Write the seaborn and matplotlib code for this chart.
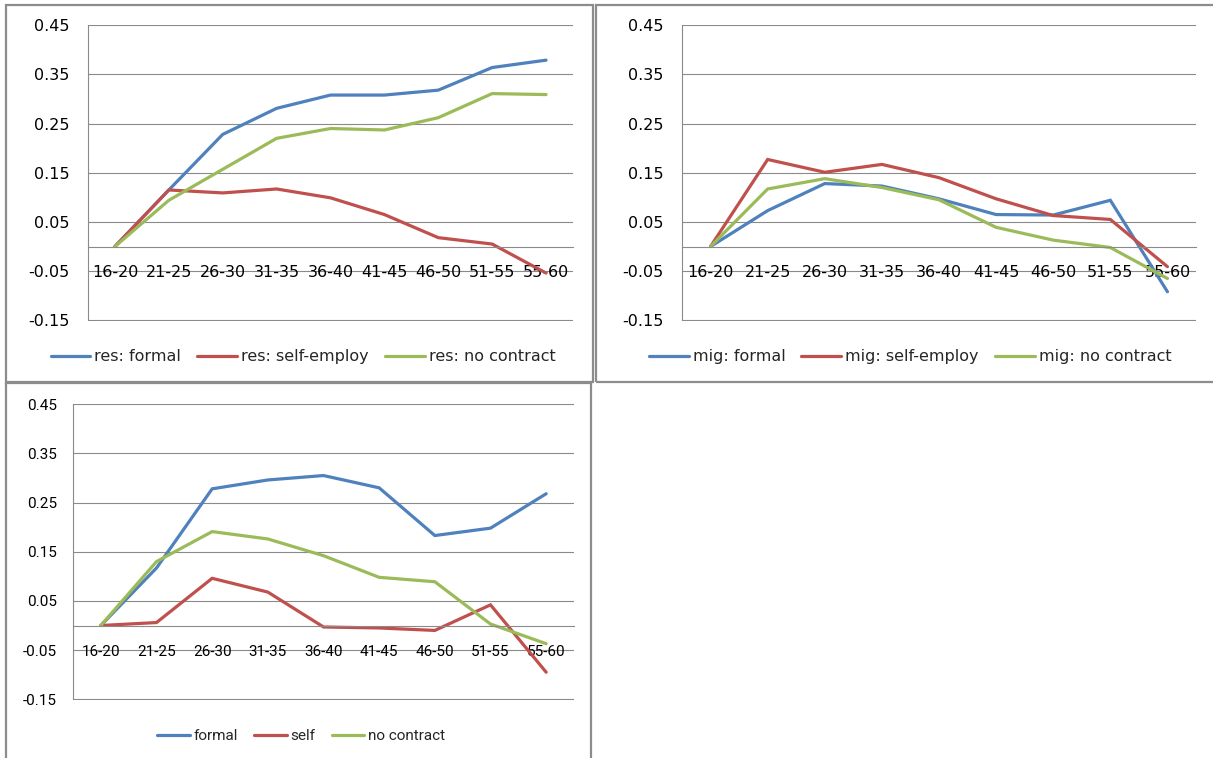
import matplotlib
matplotlib.use("Agg")
import matplotlib.pyplot as plt
from matplotlib.patches import Rectangle
import seaborn as sns
import pandas as pd
import numpy as np

# ---------------- data ----------------
age_groups = ["16-20", "21-25", "26-30", "31-35", "36-40", "41-45", "46-50", "51-55", "55-60"]

res_formal = [0.0, 0.115, 0.228, 0.281, 0.308, 0.308, 0.318, 0.364, 0.379]
res_self = [0.0, 0.115, 0.109, 0.117, 0.099, 0.065, 0.018, 0.005, -0.054]
res_nocontract = [0.0, 0.094, 0.157, 0.220, 0.240, 0.237, 0.262, 0.311, 0.309]

mig_formal = [0.0, 0.073, 0.128, 0.123, 0.097, 0.065, 0.064, 0.094, -0.092]
mig_self = [0.0, 0.177, 0.151, 0.167, 0.140, 0.097, 0.063, 0.055, -0.041]
mig_nocontract = [0.0, 0.117, 0.138, 0.120, 0.095, 0.039, 0.013, -0.002, -0.065]

all_formal = [0.0, 0.117, 0.278, 0.296, 0.305, 0.280, 0.183, 0.198, 0.268]
all_self = [0.0, 0.006, 0.096, 0.068, -0.003, -0.005, -0.010, 0.042, -0.095]
all_nocontract = [0.0, 0.130, 0.191, 0.176, 0.142, 0.098, 0.089, 0.003, -0.037]

res_labels = ["res: formal", "res: self-employ", "res: no contract"]
mig_labels = ["mig: formal", "mig: self-employ", "mig: no contract"]
all_labels = ["formal", "self", "no contract"]

ytick_values = [-0.15, -0.05, 0.05, 0.15, 0.25, 0.35, 0.45]
ytick_labels = ["-0.15", "-0.05", "0.05", "0.15", "0.25", "0.35", "0.45"]

colors = ["#4F81BD", "#C0504D", "#9BBB59"]

# ---------------- style ----------------
sns.set_style("white")
plt.rcParams["axes.unicode_minus"] = False
plt.rcParams["font.family"] = ["DejaVu Sans"]

W, H = 1213, 758
fig = plt.figure(figsize=(W / 100, H / 100), dpi=100)
GRID = "#8a8a8a"


def px_rect(l, t, r, b):
    return [l / W, 1 - b / H, (r - l) / W, (b - t) / H]


def make_panel(rect, series, labels, font, fsize, ypad, xpad, ytl, leg_xy, handlelen, colspace):
    ax = fig.add_axes(rect)
    x = np.arange(len(age_groups))
    frames = []
    for vals, lab in zip(series, labels):
        frames.append(pd.DataFrame({"x": x, "value": vals, "series": lab}))
    df = pd.concat(frames, ignore_index=True)
    sns.lineplot(data=df, x="x", y="value", hue="series", hue_order=labels,
                 palette=colors, linewidth=2.3, ax=ax, legend=True, sort=False)
    ax.set_xlim(-0.5, len(age_groups) - 0.5)
    ax.set_ylim(-0.1515, 0.4505)
    ax.set_xlabel("")
    ax.set_ylabel("")
    ax.set_yticks(ytick_values)
    ax.set_yticklabels(ytick_labels, fontfamily=font, fontsize=fsize)
    ax.yaxis.grid(True, color=GRID, linewidth=0.8)
    ax.xaxis.grid(False)
    ax.set_axisbelow(True)
    ax.xaxis.set_zorder(1.5)  # x tick labels above the y gridlines, below data lines
    for s in ["top", "right"]:
        ax.spines[s].set_visible(False)
    ax.spines["left"].set_color(GRID)
    ax.spines["left"].set_linewidth(0.8)
    ax.spines["left"].set_bounds(-0.15, 0.45)
    ax.spines["bottom"].set_position(("data", 0))
    ax.spines["bottom"].set_color(GRID)
    ax.spines["bottom"].set_linewidth(0.8)
    ax.tick_params(axis="y", which="major", direction="out", length=ytl, width=0.8,
                   color=GRID, pad=ypad, labelcolor="black")
    ax.set_xticks(x)
    ax.set_xticklabels(age_groups, fontfamily=font, fontsize=fsize)
    ax.set_xticks(np.arange(-0.5, len(age_groups)), minor=True)
    ax.tick_params(axis="x", which="major", length=0, pad=xpad, labelcolor="black")
    ax.tick_params(axis="x", which="minor", direction="out", length=4.5, width=0.8, color=GRID)
    leg = ax.legend(loc="center", bbox_to_anchor=(leg_xy[0] / W, 1 - leg_xy[1] / H),
                    bbox_transform=fig.transFigure, ncol=3, frameon=False,
                    prop={"family": font, "size": fsize}, handlelength=handlelen,
                    handletextpad=0.25, columnspacing=colspace, borderaxespad=0)
    for h in leg.get_lines():
        h.set_linewidth(2.3)
    for line in ax.lines:
        line.set_solid_joinstyle("miter")
    return ax


make_panel(px_rect(88, 25, 573, 321), [res_formal, res_self, res_nocontract], res_labels,
           font="DejaVu Sans", fsize=11.5, ypad=8.5, xpad=13, ytl=5,
           leg_xy=(303, 357), handlelen=2.5, colspace=1.0)
make_panel(px_rect(682, 25, 1196, 321), [mig_formal, mig_self, mig_nocontract], mig_labels,
           font="DejaVu Sans", fsize=11.5, ypad=8.5, xpad=13, ytl=5,
           leg_xy=(910, 357), handlelen=2.5, colspace=1.0)
make_panel(px_rect(73, 404, 574, 700), [all_formal, all_self, all_nocontract], all_labels,
           font="Roboto", fsize=11, ypad=7, xpad=14, ytl=4.5,
           leg_xy=(301, 736), handlelen=2.15, colspace=1.05)

BORDER = "#8c8c8c"
for (l, t, r, b) in [(6, 5, 593, 382), (596, 5, 1216, 382), (6, 383, 591, 765)]:
    fig.patches.append(Rectangle((l / W, 1 - b / H), (r - l) / W, (b - t) / H,
                                 transform=fig.transFigure, fill=False,
                                 edgecolor=BORDER, linewidth=1.6, zorder=10))

fig.savefig("out.png", dpi=100, facecolor="white")
